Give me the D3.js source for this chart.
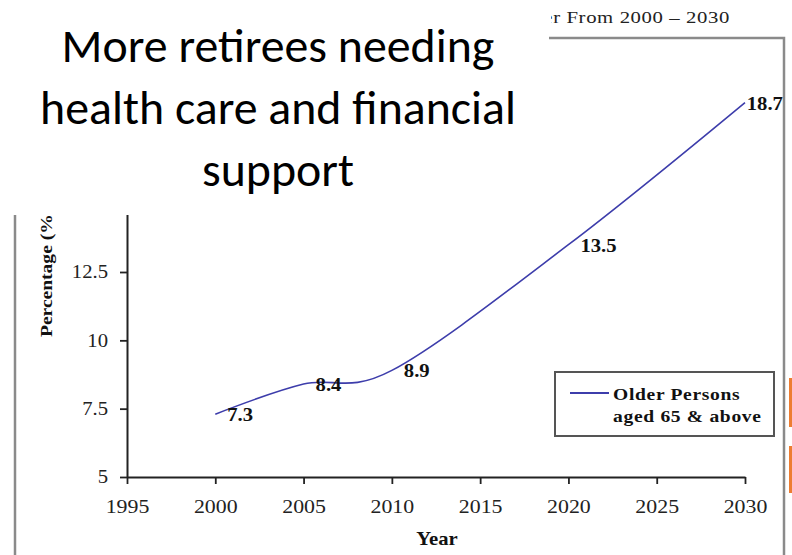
<!DOCTYPE html>
<html>
<head>
<meta charset="utf-8">
<script src="https://cdn.jsdelivr.net/npm/d3@7"></script>
<style>
  html, body { margin: 0; padding: 0; background: #fff; }
  svg { display: block; }
</style>
</head>
<body>
<svg id="chart" width="792" height="555"></svg>
<script>
// ---- data ----
const years = [2000, 2005, 2010, 2020, 2030];
const percentages = [7.3, 8.4, 8.9, 13.5, 18.7];
const xTicks = [1995, 2000, 2005, 2010, 2015, 2020, 2025, 2030];
const yTicks = [5, 7.5, 10, 12.5];
const titleLines = ["More retirees needing", "health care and financial", "support"];
const chartTitle = "er From 2000 \u2013 2030";
const legendLines = ["Older Persons", "aged 65 & above"];
const xLabel = "Year";
const yLabel = "Percentage (%)";

// ---- drawing ----
const svg = d3.select("#chart");
const serif = "'Liberation Serif', 'Times New Roman', Times, serif";
const sx = 1.15; // horizontal stretch of the pasted chart image

const x = d3.scaleLinear().domain([1995, 2030]).range([127, 745]);
const y = d3.scaleLinear().domain([5, 20]).range([477, 67]);

const defs = svg.append("defs");
defs.append("clipPath").attr("id", "subclip")
  .append("rect").attr("x", 551).attr("y", 0).attr("width", 300).attr("height", 36);
defs.append("clipPath").attr("id", "chartclip")
  .append("rect").attr("x", 0).attr("y", 216).attr("width", 549).attr("height", 400);

// chart frame
svg.append("path")
  .attr("d", "M15,38 H784 V560")
  .attr("fill", "none").attr("stroke", "#8a8a8a").attr("stroke-width", 2.5);
svg.append("line").attr("x1", 15).attr("x2", 15).attr("y1", 38).attr("y2", 560)
  .attr("stroke", "#8a8a8a").attr("stroke-width", 2.5);

// chart subtitle (partially hidden)
svg.append("g").attr("clip-path", "url(#subclip)")
  .append("text")
  .attr("transform", "translate(730,23) scale(1.22,1)")
  .attr("text-anchor", "end")
  .attr("font-family", serif).attr("font-size", 17)
  .attr("letter-spacing", 0.5)
  .attr("fill", "#222")
  .text(chartTitle);

// axes
const xAxis = svg.append("g")
  .attr("transform", "translate(0,477)")
  .call(d3.axisBottom(x).tickValues(xTicks).tickSize(7).tickSizeOuter(0).tickFormat(d3.format("d")));
xAxis.select(".domain").attr("stroke", "#222").attr("stroke-width", 2);
xAxis.selectAll(".tick line").attr("stroke", "#222").attr("stroke-width", 1.8);
xAxis.selectAll(".tick text")
  .attr("y", 36).attr("dy", 0)
  .attr("font-family", serif).attr("font-size", 19)
  .attr("fill", "#222")
  .attr("transform", `scale(${sx},1)`);

const yAxis = svg.append("g")
  .attr("transform", "translate(127,0)")
  .call(d3.axisLeft(y).tickValues(yTicks).tickSize(7).tickSizeOuter(0).tickFormat(d => String(d)));
yAxis.select(".domain").attr("stroke", "#222").attr("stroke-width", 2);
yAxis.selectAll(".tick line").attr("stroke", "#222").attr("stroke-width", 1.8);
yAxis.selectAll(".tick text")
  .attr("x", -19 / sx).attr("dy", "0.33em")
  .attr("font-family", serif).attr("font-size", 18)
  .attr("fill", "#222")
  .attr("transform", `scale(${sx},1)`);

// axis titles
svg.append("text")
  .attr("transform", `translate(437,545) scale(${sx},1)`)
  .attr("text-anchor", "middle")
  .attr("font-family", serif).attr("font-weight", "bold").attr("font-size", 18)
  .attr("fill", "#111")
  .text(xLabel);
svg.append("g").attr("clip-path", "url(#chartclip)")
  .append("text")
  .attr("transform", `translate(52,337) rotate(-90) scale(${sx},1)`)
  .attr("text-anchor", "start")
  .attr("font-family", serif).attr("font-weight", "bold").attr("font-size", 17)
  .attr("fill", "#111")
  .text(yLabel);

// series line
const pts = years.map((yr, i) => [yr, percentages[i]]);
const line = d3.line().x(d => x(d[0])).y(d => y(d[1])).curve(d3.curveCardinal.tension(0));
svg.append("path")
  .datum(pts)
  .attr("d", line)
  .attr("fill", "none")
  .attr("stroke", "#3d3dab")
  .attr("stroke-width", 1.6);

// data labels
svg.selectAll(".dlabel").data(pts).join("text")
  .attr("class", "dlabel")
  .attr("font-family", serif).attr("font-weight", "bold").attr("font-size", 18)
  .attr("fill", "#111")
  .each(function(d) {
    const el = d3.select(this).text(d[1]);
    const w = this.getComputedTextLength() * sx;
    const px = Math.min(x(d[0]) + 12, 783 - w);
    el.attr("transform", `translate(${px},${y(d[1]) + 7}) scale(${sx},1)`);
  });

// legend
svg.append("rect")
  .attr("x", 555).attr("y", 372).attr("width", 219).attr("height", 64)
  .attr("fill", "#fff").attr("stroke", "#555").attr("stroke-width", 2);
svg.append("line")
  .attr("x1", 570).attr("x2", 609).attr("y1", 393).attr("y2", 393)
  .attr("stroke", "#3d3dab").attr("stroke-width", 1.8);
legendLines.forEach((t, i) => {
  svg.append("text")
    .attr("transform", `translate(613,${400 + i * 22}) scale(${sx},1)`)
    .attr("font-family", serif).attr("font-weight", "bold").attr("font-size", 17)
    .attr("letter-spacing", 0.6)
    .attr("fill", "#111")
    .text(t);
});

// white slide title box covering the chart's corner
svg.append("rect").attr("x", 0).attr("y", 0).attr("width", 549).attr("height", 215).attr("fill", "#fff");
const title = svg.append("g");
const tl = title.selectAll("text").data(titleLines).join("text")
  .attr("x", 278)
  .attr("y", (d, i) => 62 + i * 62)
  .attr("text-anchor", "middle")
  .attr("font-family", "Calibri, Carlito, Lato, 'Open Sans', sans-serif")
  .attr("font-size", 40)
  .attr("fill", "#000")
  .text(d => d);
// fit font size so the widest line spans like the original
const widest = tl.filter((d, i) => i === 1).node().getComputedTextLength();
tl.attr("font-size", 40 * 476 / widest);

// orange slide accents on the right edge
svg.append("rect").attr("x", 789).attr("y", 378).attr("width", 4).attr("height", 49).attr("fill", "#ED7D31");
svg.append("rect").attr("x", 789).attr("y", 446).attr("width", 4).attr("height", 47).attr("fill", "#ED7D31");
</script>
</body>
</html>
